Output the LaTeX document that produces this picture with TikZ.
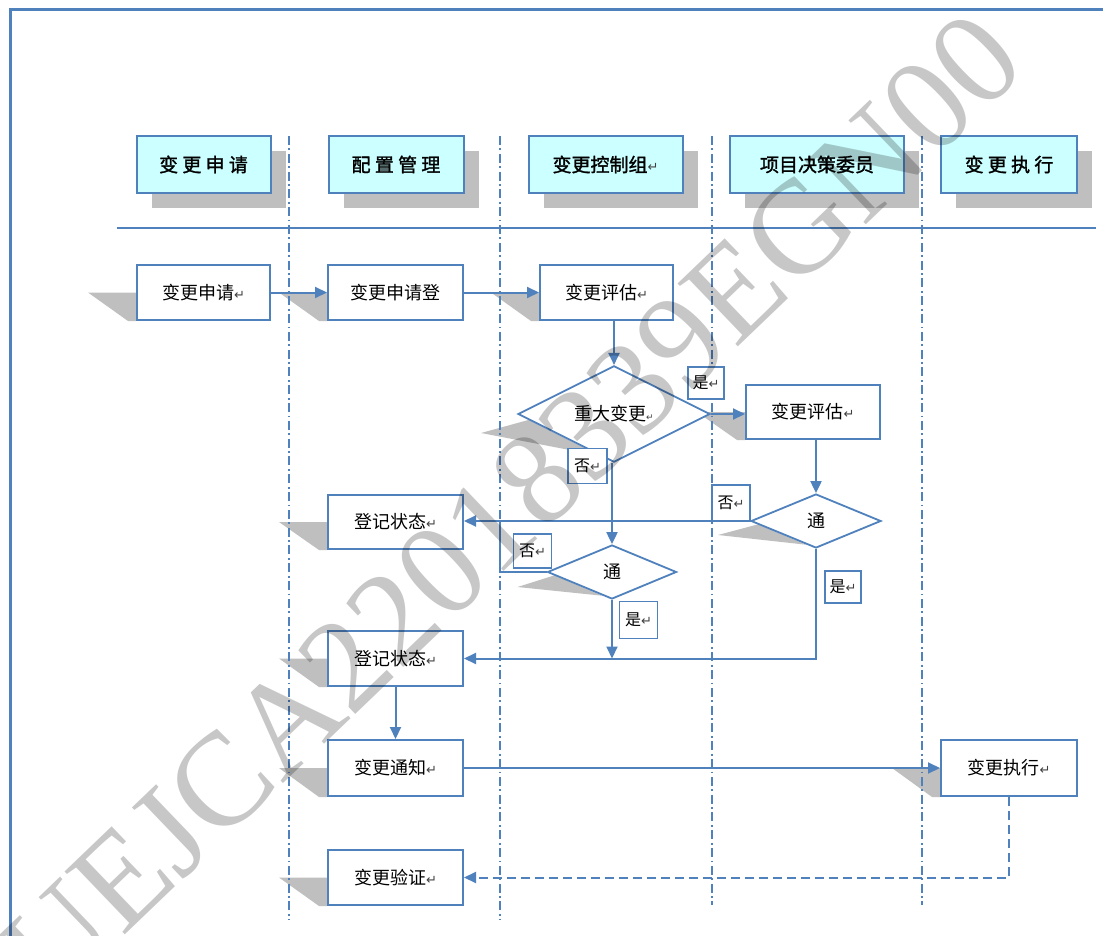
\documentclass[tikz,border=0pt]{standalone}
\usepackage{fontspec}
\newfontfamily\cjk{Noto Sans CJK SC}
\newfontfamily\cjkb[FakeBold=1.5]{Noto Sans CJK SC}
\newfontfamily\symf{DejaVu Sans}
\newfontfamily\wmf{Liberation Serif}
\usetikzlibrary{shapes.geometric,arrows.meta,shadows,backgrounds,calc}
\definecolor{lineblue}{RGB}{79,129,189}
\definecolor{hdrfill}{RGB}{204,255,255}
\definecolor{shadowgray}{RGB}{191,191,191}
\newcommand{\retm}{{\symf\fontsize{13}{13}\selectfont\textcolor{darkgray}{↵}}}
\begin{document}
\begin{tikzpicture}[x=1pt,y=-1pt,
  arr/.style={draw=lineblue, line width=2pt, -{Triangle[length=12pt,width=11pt]}},
  plain/.style={draw=lineblue, line width=2pt},
  hdr/.style={draw=lineblue, line width=2pt, fill=hdrfill, minimum height=57pt, inner sep=0pt,
    font=\cjkb\fontsize{19}{19}\selectfont,
    drop shadow={shadow xshift=15pt, shadow yshift=-15pt, fill=shadowgray, opacity=1}},
  proc/.style={draw=lineblue, line width=2pt, fill=white, minimum width=135pt, minimum height=55pt,
    inner sep=0pt, font=\cjk\fontsize{18}{18}\selectfont},
  lbl/.style={draw=lineblue, line width=1.8pt, fill=white, minimum width=37pt, minimum height=33pt,
    inner sep=0pt, font=\cjk\fontsize{16}{16}\selectfont},
  dec/.style={diamond, draw=lineblue, line width=1.8pt, fill=white, inner sep=0pt,
    font=\cjk\fontsize{18}{18}\selectfont},
  lane/.style={draw=lineblue, line width=1.6pt, dash pattern=on 9pt off 3.5pt on 1.8pt off 3.5pt},
  shd/.style={fill=shadowgray}
]
\useasboundingbox (0,0) rectangle (1103,936);

% frame
\draw[lineblue, line width=3pt] (10,936) -- (10,10) -- (1103,10);

% header
\node[hdr, minimum width=134pt] (h1) at (203.5,164.5) {变 更 申 请};
\node[hdr, minimum width=135pt] (h2) at (396,164.5) {配 置 管 理};
\node[hdr, minimum width=154pt] (h3) at (605.5,164.5) {变更控制组\retm};
\node[hdr, minimum width=174pt] (h4) at (817,164.5) {项目决策委员};
\node[hdr, minimum width=136pt] (h5) at (1009,164.5) {变 更 执 行};

\draw[lineblue, line width=2.2pt] (117,228) -- (1096,228);

% process nodes
\node[proc, minimum width=133pt] (a1) at (203.5,292.5) {变更申请\retm};
\node[proc] (a2) at (395.5,292.5) {变更申请登};
\node[proc, minimum width=133pt] (a3) at (606.5,292.5) {变更评估\retm};
\node[dec, minimum width=192pt, minimum height=75pt] (d1) at (614,414) {重大变更{\symf\fontsize{9}{9}\selectfont\textcolor{darkgray}{↵}}};
\node[proc, minimum width=134pt, minimum height=54pt] (b1) at (813,412) {变更评估\retm};
\node[dec, minimum width=130pt, minimum height=54pt] (d2) at (816,521) {通};
\node[proc, minimum height=54pt] (r1) at (395.5,522) {登记状态\retm};
\node[dec, minimum width=129pt, minimum height=54pt] (d3) at (612,572) {通};
\node[proc] (r2) at (395.5,658.5) {登记状态\retm};
\node[proc, minimum height=56pt] (n1) at (395.5,768) {变更通知\retm};
\node[proc, minimum width=136pt, minimum height=56pt] (e1) at (1009,768) {变更执行\retm};
\node[proc] (v1) at (395.5,877.5) {变更验证\retm};

% labels
\node[lbl, minimum width=36pt, minimum height=32pt] (y1) at (706,383) {是\retm};
\node[lbl, minimum width=39pt, minimum height=35pt] (n1l) at (587.5,466) {否\retm};
\node[lbl, minimum width=38pt, minimum height=36pt] (n2l) at (731,503) {否\retm};
\node[lbl, minimum width=38pt, minimum height=34pt] (n3l) at (532.5,551) {否\retm};
\node[lbl, minimum width=38pt, minimum height=37pt] (y2) at (638.5,620) {是\retm};
\node[lbl, minimum width=36pt, minimum height=32pt] (y3) at (843,587) {是\retm};

\coordinate (j1) at (500,521);

% background: shadows and lanes
\begin{scope}[on background layer]
  \fill[white] (0,0) rectangle (1103,936);
  \foreach \n in {a1,a2,a3,b1,r1,r2,n1,e1,v1}{
    \fill[shd] ([xshift=-48pt]\n.west) -- (\n.west) -- (\n.south west) -- ([xshift=-8pt]\n.south west) -- cycle;
  }
  \fill[shd] ($(d1.west)+(-36,19)$) -- ($(d1.west)!0.12!(d1.south)$) -- ($(d1.west)!0.85!(d1.south)$) -- cycle;
  \fill[shd] ($(d2.west)+(-32,14)$) -- ($(d2.west)!0.12!(d2.south)$) -- ($(d2.west)!0.85!(d2.south)$) -- cycle;
  \fill[shd] ($(d3.west)+(-29,15)$) -- ($(d3.west)!0.12!(d3.south)$) -- ($(d3.west)!0.85!(d3.south)$) -- cycle;
  \foreach \x/\e in {289/920,500/920,712/905,922/905}{
    \draw[lane] (\x,136) -- (\x,\e);
  }
\end{scope}

% connectors
\draw[arr] (a1.east) -- (a2.west);
\draw[arr] (a2.east) -- (a3.west);
\draw[arr] (d1.north |- a3.south) -- (d1.north);
\draw[arr] (d1.east) -- (d1.east -| b1.west);
\draw[arr] (d2.north |- b1.south) -- (d2.north);
\draw[arr] (d3.north |- d1.south) -- (d3.north);
\draw[arr] (d2.west) -- (d2.west -| r1.east);
\draw[plain] (d3.west) -| (j1);
\draw[arr] (d3.south) -- (d3.south |- r2.east);
\draw[arr] (d2.south) |- (r2.east);
\draw[arr] (r2.south) -- (n1.north);
\draw[arr] (n1.east) -- (e1.west);
\draw[arr, dash pattern=on 9pt off 5pt] (e1.south) |- (v1.east);

% watermark
\node[opacity=0.22, font=\wmf\fontsize{133}{133}\selectfont, rotate=43.8, inner sep=0pt] (wm) at (511,505) {UEJCA22018339EGN00};
\end{tikzpicture}
\end{document}
